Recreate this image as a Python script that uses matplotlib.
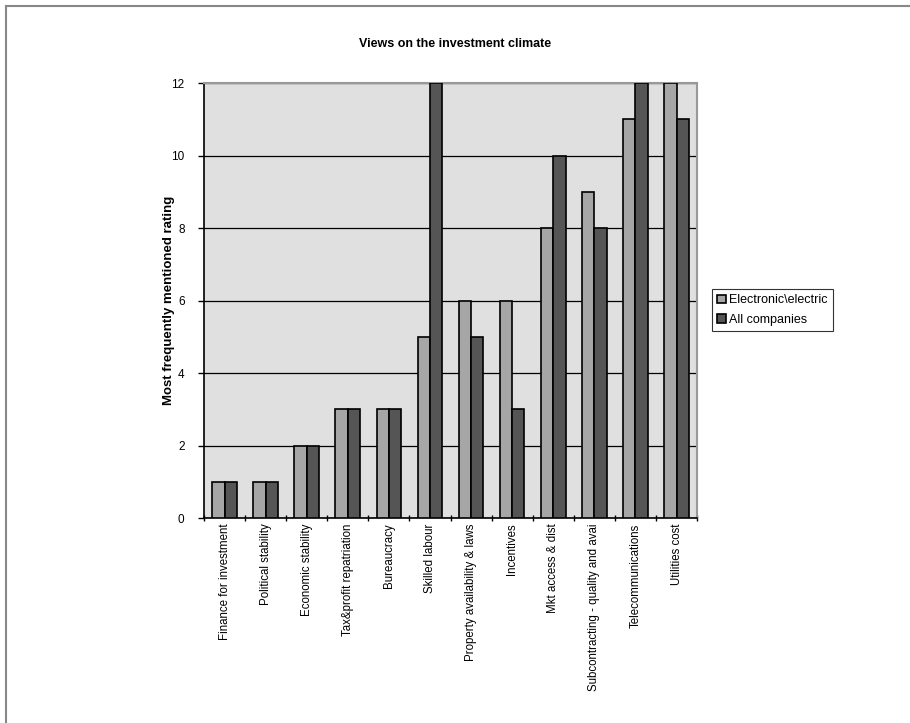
import matplotlib
matplotlib.use("Agg")
import matplotlib.pyplot as plt
from matplotlib.lines import Line2D
import numpy as np

plt.rcParams['font.family'] = ['Liberation Sans', 'DejaVu Sans']

categories = [
    "Finance for investment", "Political stability", "Economic stability",
    "Tax&profit repatriation", "Bureaucracy", "Skilled labour",
    "Property availability & laws", "Incentives", "Mkt access & dist",
    "Subcontracting - quality and avai", "Telecommunications", "Utilities cost",
]
electronic = [1, 1, 2, 3, 3, 5, 6, 6, 8, 9, 11, 12]
all_companies = [1, 1, 2, 3, 3, 12, 5, 3, 10, 8, 12, 11]
yticks = [0, 2, 4, 6, 8, 10, 12]

fig = plt.figure(figsize=(9.10, 7.23), dpi=100)
ax = fig.add_axes([0.2242, 0.2835, 0.5418, 0.6017])

x = np.arange(len(categories))
w = 0.3
ax.bar(x - w / 2, electronic, width=w, color="#a6a6a6", edgecolor="black",
       linewidth=1.2, label="Electronic\\electric", zorder=3)
ax.bar(x + w / 2, all_companies, width=w, color="#555555", edgecolor="black",
       linewidth=1.2, label="All companies", zorder=3)

ax.set_facecolor("#e0e0e0")
ax.set_xlim(-0.5, len(categories) - 0.5)
ax.set_ylim(0, 12)
ax.set_yticks(yticks)
ax.set_yticklabels([str(t) for t in yticks], fontsize=8.5)
ax.yaxis.grid(True, color="black", linewidth=0.9, zorder=1)
ax.set_axisbelow(True)

ax.set_xticks(np.arange(len(categories) + 1) - 0.5, minor=False)
ax.set_xticklabels([])
ax.set_xticks(x, minor=True)
ax.set_xticklabels(categories, minor=True, rotation=90, fontsize=8.3)
ax.tick_params(axis="x", which="minor", length=0, pad=4)
ax.tick_params(axis="x", which="major", length=4, direction="inout", width=1)
ax.tick_params(axis="y", length=4, direction="out", width=1, pad=10)

for s in ("left", "bottom"):
    ax.spines[s].set_color("black")
    ax.spines[s].set_linewidth(1.2)
for s in ("top", "right"):
    ax.spines[s].set_color("#999999")
    ax.spines[s].set_linewidth(1.5)

ax.set_ylabel("Most frequently mentioned rating", fontsize=9.5,
              fontweight="bold", labelpad=-3)

fig.text(0.5, 0.939, "Views on the investment climate", ha="center",
         va="center", fontsize=9, fontweight="bold")

leg = ax.legend(loc="center left", bbox_to_anchor=(1.03, 0.478), fontsize=9,
                frameon=True, fancybox=False, edgecolor="black",
                handlelength=0.7, handleheight=0.7, handletextpad=0.3,
                borderpad=0.4, labelspacing=0.6, borderaxespad=0)
leg.get_frame().set_linewidth(0.8)

# thin frame along the top and left of the figure
fig.add_artist(Line2D([6 / 910, 6 / 910], [1 - 6 / 723, 0], color="#888888",
                      linewidth=1.5, transform=fig.transFigure))
fig.add_artist(Line2D([6 / 910, 1], [1 - 6 / 723, 1 - 6 / 723], color="#888888",
                      linewidth=1.5, transform=fig.transFigure))

fig.savefig("out.png", dpi=100)
